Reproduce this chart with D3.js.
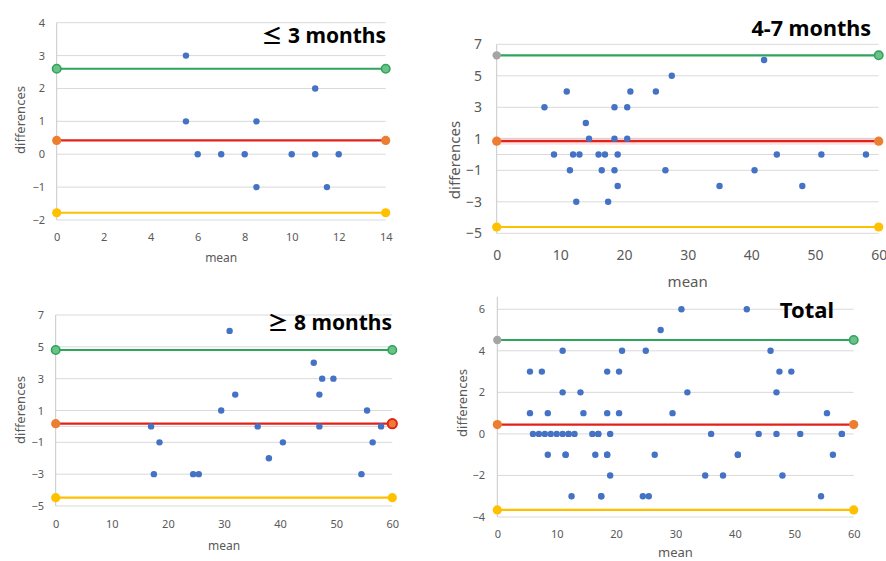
<!DOCTYPE html>
<html><head><meta charset="utf-8">
<script src="https://cdn.jsdelivr.net/npm/d3@7"></script>
<style>body{margin:0;background:#fff}svg{display:block}text{font-family:"Noto Sans","Noto Sans CJK KR",sans-serif}</style>
</head><body><svg id="c" width="886" height="561"></svg>
<script>
// ---- data ----
const titles = ["≤ 3 months", "4-7 months", "≥ 8 months", "Total"];
const g1Mean = [5.5, 5.5, 6, 7, 8, 8.5, 8.5, 10, 11, 11, 11.5, 12];
const g1Diff = [3, 1, 0, 0, 0, 1, -1, 0, 2, 0, -1, 0];
const g2Mean = [7.5, 11, 9, 11.5, 12, 12.5, 13, 14, 14.5, 16, 16.5, 17, 17.5, 18.5, 18.5, 18.5, 19, 19, 20.5, 20.5, 21, 25, 26.5, 27.5, 35, 40.5, 42, 44, 48, 51, 58];
const g2Diff = [3, 4, 0, -1, 0, -3, 0, 2, 1, 0, -1, 0, -3, 3, 1, -1, 0, -2, 3, 1, 4, 4, -1, 5, -2, -1, 6, 0, -2, 0, 0];
const g3Mean = [17, 17.5, 18.5, 24.5, 25.5, 29.5, 31, 32, 36, 38, 40.5, 46, 47, 47, 47.5, 49.5, 54.5, 55.5, 56.5, 58];
const g3Diff = [0, -3, -1, -3, -3, 1, 6, 2, 0, -2, -1, 4, 2, 0, 3, 3, -3, 1, -1, 0];
const totalMean = g1Mean.concat(g2Mean, g3Mean);
const totalDiff = g1Diff.concat(g2Diff, g3Diff);
const upperLoA = [2.6, 6.3, 4.8, 4.52];
const meanBias = [0.42, 0.85, 0.17, 0.45];
const lowerLoA = [-1.78, -4.6, -4.48, -3.66];
const xTicks = [[0, 2, 4, 6, 8, 10, 12, 14], [0, 10, 20, 30, 40, 50, 60], [0, 10, 20, 30, 40, 50, 60], [0, 10, 20, 30, 40, 50, 60]];
const yTicks = [[-2, -1, 0, 1, 2, 3, 4], [-5, -3, -1, 1, 3, 5, 7], [-5, -3, -1, 1, 3, 5, 7], [-4, -2, 0, 2, 4, 6]];
const xDomains = [[0, 14], [0, 60], [0, 60], [0, 60]];
const yDomains = [[-2, 4], [-5, 7], [-5, 7], [-4, 6.6]];

// ---- layout ----
const panels = [
  {l:56.7, r:385.7, t:22.7, b:220, tickFs:11, xLabY:237, meanY:258, meanFs:12, yLabR:45, diffX:20, diffY:120, diffFs:13, titleX:386, titleY:43, titleFs:21,
   ends:{up:["#6cc08a","#6cc08a"], mid:["#ED7D31","#ED7D31"], lo:["#FFC000","#FFC000"]}, glow:false},
  {l:496.7, r:878.7, t:44.3, b:233.3, tickFs:14, xLabY:255, meanY:282, meanFs:15, yLabR:482, diffX:455, diffY:160, diffFs:15, titleX:871, titleY:36, titleFs:21.5,
   ends:{up:["#A5A5A5","#6cc08a"], mid:["#ED7D31","#ED7D31"], lo:["#FFC000","#FFC000"]}, glow:true},
  {l:55.7, r:392.3, t:315, b:506, tickFs:11, xLabY:524, meanY:546, meanFs:12, yLabR:44, diffX:20, diffY:410, diffFs:13, titleX:392, titleY:330, titleFs:21,
   ends:{up:["#6cc08a","#6cc08a"], mid:["#ED7D31","#ED7D31"], lo:["#FFC000","#FFC000"]}, glow:false, redEnd:true},
  {l:497.3, r:853.7, t:296.8, b:517, tickFs:11, xLabY:534, meanY:552, meanFs:13, yLabR:485, diffX:462, diffY:403, diffFs:13, titleX:834, titleY:318, titleFs:22,
   ends:{up:["#A5A5A5","#6cc08a"], mid:["#ED7D31","#ED7D31"], lo:["#FFC000","#FFC000"]}, glow:false}
];
const means = [g1Mean, g2Mean, g3Mean, totalMean];
const diffs = [g1Diff, g2Diff, g3Diff, totalDiff];

const svg = d3.select("#c");
panels.forEach((p, i) => {
  const g = svg.append("g");
  const x = d3.scaleLinear().domain(xDomains[i]).range([p.l, p.r]);
  const y = d3.scaleLinear().domain(yDomains[i]).range([p.b, p.t]);
  const gridVals = yTicks[i].includes(0) ? yTicks[i] : yTicks[i].concat([0]);
  g.selectAll(".grid").data(gridVals).join("line")
    .attr("x1", p.l).attr("x2", p.r).attr("y1", d => y(d)).attr("y2", d => y(d))
    .attr("stroke", "#d9d9d9").attr("stroke-width", 1);
  g.append("line").attr("x1", p.l).attr("x2", p.l).attr("y1", p.t).attr("y2", p.b).attr("stroke", "#c8c8c8");
  const ya = d3.axisLeft(y).tickValues(yTicks[i]).tickFormat(d3.format("d")).tickSize(0).tickPadding(0);
  const yg = g.append("g").attr("transform", `translate(${p.yLabR},0)`).call(ya);
  yg.select(".domain").remove();
  yg.selectAll("text").attr("fill", "#595959").style("font-size", p.tickFs + "px");
  const xa = d3.axisBottom(x).tickValues(xTicks[i]).tickFormat(d3.format("d")).tickSize(0).tickPadding(0);
  const xg = g.append("g").attr("transform", `translate(0,${p.xLabY})`).call(xa);
  xg.select(".domain").remove();
  xg.selectAll("text").attr("fill", "#595959").style("font-size", p.tickFs + "px").attr("dy", "0.35em").attr("y", 0);
  g.append("text").attr("x", (p.l + p.r) / 2).attr("y", p.meanY).attr("dy", "0.35em")
    .attr("text-anchor", "middle").attr("fill", "#595959").style("font-size", p.meanFs + "px").text("mean");
  g.append("text").attr("transform", `translate(${p.diffX},${p.diffY}) rotate(-90)`).attr("dy", "0.35em")
    .attr("text-anchor", "middle").attr("fill", "#595959").style("font-size", p.diffFs + "px").text("differences");
  const lines = [
    {v: upperLoA[i], c: "#2ea55a", ends: p.ends.up},
    {v: meanBias[i], c: "#e3201b", ends: p.ends.mid},
    {v: lowerLoA[i], c: "#FFC000", ends: p.ends.lo}
  ];
  if (p.glow) {
    g.append("line").attr("x1", x(xDomains[i][0])).attr("x2", x(xDomains[i][1]))
      .attr("y1", y(meanBias[i])).attr("y2", y(meanBias[i]))
      .attr("stroke", "rgba(240,90,90,0.18)").attr("stroke-width", 7);
  }
  lines.forEach(L => {
    g.append("line").attr("x1", x(xDomains[i][0])).attr("x2", x(xDomains[i][1]))
      .attr("y1", y(L.v)).attr("y2", y(L.v)).attr("stroke", L.c).attr("stroke-width", 2.2);
  });
  g.selectAll(".pt").data(means[i].map((m, k) => [m, diffs[i][k]])).join("circle")
    .attr("cx", d => x(d[0])).attr("cy", d => y(d[1])).attr("r", 3.2).attr("fill", "#4472C4");
  lines.forEach((L, li) => {
    [0, 1].forEach(e => {
      const cx = x(xDomains[i][e]);
      const fill = L.ends[e];
      const c = g.append("circle").attr("cx", cx).attr("cy", y(L.v)).attr("r", li === 0 ? 4.2 : 4.6).attr("fill", fill);
      if (li === 0 && fill !== "#A5A5A5") c.attr("stroke", "#2ea55a").attr("stroke-width", 1.6);
      if (li === 1 && e === 1 && p.redEnd) c.attr("fill", "#ED7D31").attr("stroke", "#e3201b").attr("stroke-width", 2);
    });
  });
  g.append("text").attr("x", p.titleX).attr("y", p.titleY).attr("text-anchor", "end")
    .attr("fill", "#000").style("font-size", p.titleFs + "px").style("font-weight", "bold").text(titles[i]);
});
</script>
</body></html>
